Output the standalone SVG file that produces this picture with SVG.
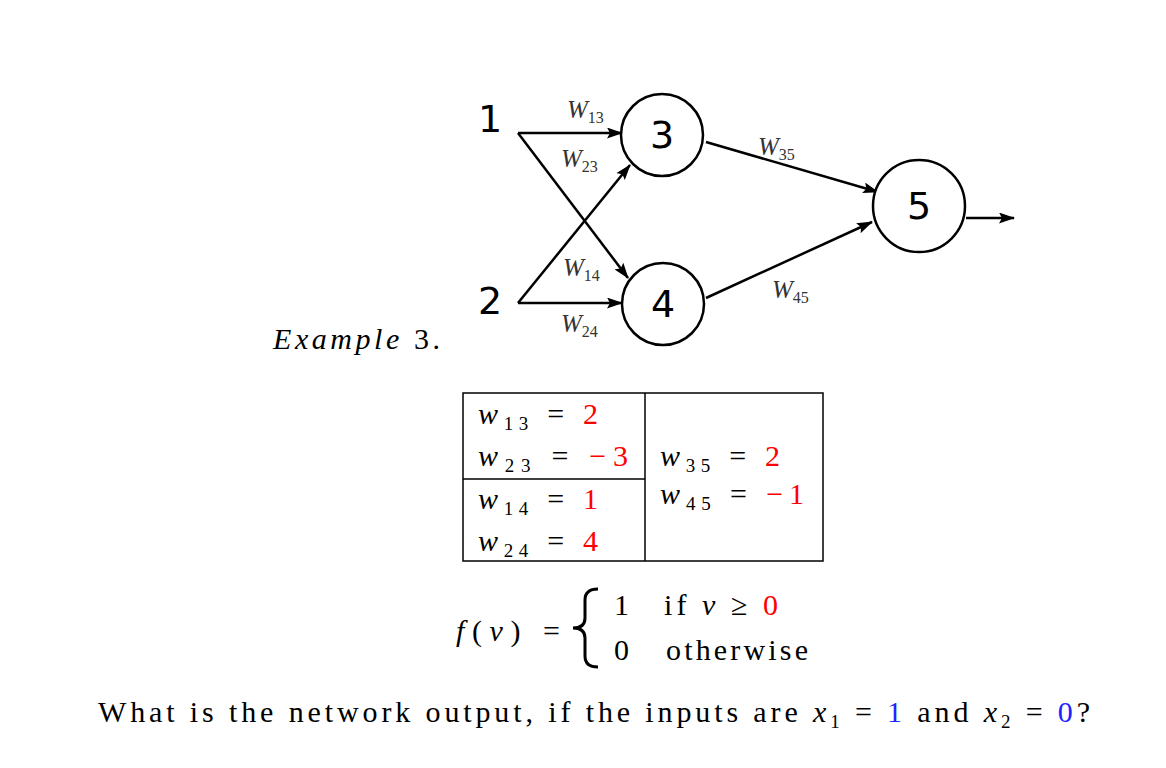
<svg xmlns="http://www.w3.org/2000/svg" width="1166" height="768" viewBox="0 0 1166 768">
<defs>
<marker id="ah" markerWidth="16" markerHeight="11" refX="15" refY="5.5" orient="auto" markerUnits="userSpaceOnUse"><path d="M0,0 L16,5.5 L0,11 L3,5.5 z" fill="#000"/></marker>
<style>
.ln{stroke:#000;stroke-width:2.5;fill:none}
.c{fill:#fff;stroke:#000;stroke-width:2.5}
.nl{font-family:"DejaVu Sans",sans-serif;font-size:38px;text-anchor:middle}
.w{font-family:"Liberation Serif",serif;font-style:italic;font-size:25px;fill:#333}
.s{font-size:16px;font-style:normal}
.m{font-family:"Liberation Serif",serif;font-size:30px}
.sub{font-size:19px}
.i{font-style:italic}
.r{fill:#f00}
.b{fill:#22f}
</style>
</defs>
<rect width="1166" height="768" fill="#fff"/>
<g id="connectors">
<path class="ln" d="M518,133 L622,133" marker-end="url(#ah)"/>
<path class="ln" d="M518,133 L628,278" marker-end="url(#ah)"/>
<path class="ln" d="M518,303 L622,303" marker-end="url(#ah)"/>
<path class="ln" d="M518,303 L630,165" marker-end="url(#ah)"/>
<path class="ln" d="M706,142 L878,192" marker-end="url(#ah)"/>
<path class="ln" d="M706,298 L872,222" marker-end="url(#ah)"/>
<path class="ln" d="M966,218 L1014,218" marker-end="url(#ah)"/>
<text class="w" x="567" y="118">W<tspan class="s" dy="5">13</tspan></text>
<text class="w" x="561" y="167">W<tspan class="s" dy="5">23</tspan></text>
<text class="w" x="563" y="276">W<tspan class="s" dy="5">14</tspan></text>
<text class="w" x="561" y="332">W<tspan class="s" dy="5">24</tspan></text>
<text class="w" x="758" y="155">W<tspan class="s" dy="5">35</tspan></text>
<text class="w" x="772" y="298">W<tspan class="s" dy="5">45</tspan></text>
</g>
<g id="n1"><text class="nl" x="490" y="132">1</text></g>
<g id="n2"><text class="nl" x="490" y="314">2</text></g>
<g id="n3"><circle class="c" cx="662" cy="135" r="41"/><text class="nl" x="662" y="148">3</text></g>
<g id="n4"><circle class="c" cx="663" cy="304" r="41"/><text class="nl" x="663" y="317">4</text></g>
<g id="n5"><circle class="c" cx="919" cy="206" r="46"/><text class="nl" x="919" y="219">5</text></g>
<text class="m" x="273" y="349" textLength="167"><tspan class="i">Example</tspan> 3.</text>
<g id="table">
<rect x="463" y="393" width="360" height="168" fill="none" stroke="#000" stroke-width="1.5"/>
<line x1="645" y1="393" x2="645" y2="561" stroke="#000" stroke-width="1.5"/>
<line x1="463" y1="479" x2="645" y2="479" stroke="#000" stroke-width="1.5"/>
<text class="m" x="478" y="424" textLength="120"><tspan class="i">w</tspan><tspan class="sub" dy="6">13</tspan><tspan dy="-6"> = </tspan><tspan class="r">2</tspan></text>
<text class="m" x="478" y="466" textLength="150"><tspan class="i">w</tspan><tspan class="sub" dy="6">23</tspan><tspan dy="-6"> = </tspan><tspan class="r">−3</tspan></text>
<text class="m" x="478" y="509" textLength="120"><tspan class="i">w</tspan><tspan class="sub" dy="6">14</tspan><tspan dy="-6"> = </tspan><tspan class="r">1</tspan></text>
<text class="m" x="478" y="551" textLength="120"><tspan class="i">w</tspan><tspan class="sub" dy="6">24</tspan><tspan dy="-6"> = </tspan><tspan class="r">4</tspan></text>
<text class="m" x="660" y="466" textLength="120"><tspan class="i">w</tspan><tspan class="sub" dy="6">35</tspan><tspan dy="-6"> = </tspan><tspan class="r">2</tspan></text>
<text class="m" x="660" y="504" textLength="144"><tspan class="i">w</tspan><tspan class="sub" dy="6">45</tspan><tspan dy="-6"> = </tspan><tspan class="r">−1</tspan></text>
</g>
<text class="m" x="456" y="641" textLength="104"><tspan class="i">f</tspan>(<tspan class="i">v</tspan>) =</text>
<path d="M598,589 Q585,589 585,600 L585,618 Q585,628 573,628 Q585,628 585,638 L585,656 Q585,667 598,667" fill="none" stroke="#000" stroke-width="3"/>
<text class="m" x="614" y="615">1</text>
<text class="m" x="664" y="615" textLength="114"><tspan>if </tspan><tspan class="i">v</tspan> ≥ <tspan class="r">0</tspan></text>
<text class="m" x="614" y="660">0</text>
<text class="m" x="666" y="660" textLength="142">otherwise</text>
<text class="m" x="98" y="722" textLength="992"><tspan>What is the network output, if the inputs are </tspan><tspan class="i">x</tspan><tspan class="sub" dy="6">1</tspan><tspan dy="-6"> = </tspan><tspan class="b">1</tspan> and <tspan class="i">x</tspan><tspan class="sub" dy="6">2</tspan><tspan dy="-6"> = </tspan><tspan class="b">0</tspan>?</text>
</svg>
